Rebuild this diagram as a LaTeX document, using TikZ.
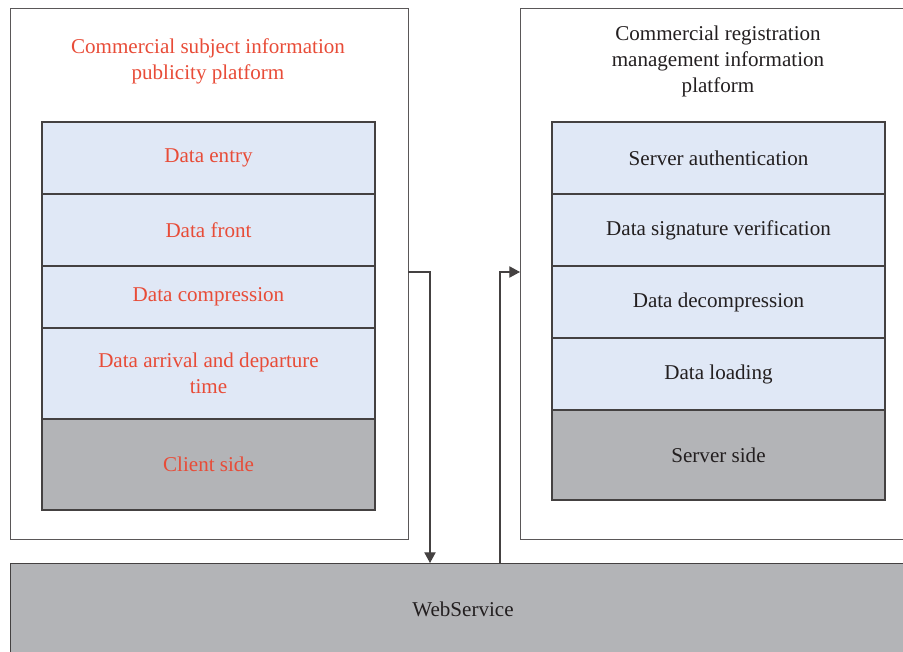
\documentclass[tikz,border=0pt]{standalone}
\usepackage{fontspec}
\setmainfont{Liberation Serif}
\definecolor{layerblue}{RGB}{224,232,246}
\definecolor{layergray}{RGB}{179,180,183}
\definecolor{titlered}{RGB}{232,76,56}
\definecolor{textdark}{RGB}{35,31,32}
\usetikzlibrary{positioning,arrows.meta}

\begin{document}
\begin{tikzpicture}[x=0.75pt,y=-0.75pt,
    every node/.style={font=\fontsize{15.8}{19.5}\selectfont, align=center, outer sep=0pt},
    frame/.style={draw=textdark!75, line width=0.7pt, anchor=north west},
    layer/.style={draw=textdark!85, line width=0.8pt, fill=layerblue, minimum width=249.75pt, minimum height=54pt},
    base/.style={layer, fill=layergray, minimum height=68.25pt},
    flow/.style={draw=textdark!85, line width=0.8pt, -{Triangle[length=8pt,width=8.5pt]}}]
    \useasboundingbox (0,0) rectangle (903,652);

    % outer platforms
    \node[frame, minimum width=298.5pt, minimum height=398.25pt] (client) at (10,8) {};
    \node[frame, minimum width=300pt, minimum height=398.25pt] (server) at (520,8) {};
    \node[frame, fill=layergray, draw=textdark!85, minimum width=679.5pt, minimum height=72pt, text=textdark] (ws) at (10,563) {\raisebox{3pt}{WebService}};

    \node[text=titlered] (ctitle) at (208,61) {Commercial subject information\\publicity platform};
    \node[text=textdark] (stitle) at (718,61) {Commercial registration\\management information\\platform};

    % client stack
    \node[layer, anchor=north west, text=titlered] (entry) at (42,122) {Data entry};
    \node[layer, below=0pt of entry, text=titlered] (front) {Data front};
    \node[layer, below=0pt of front, minimum height=46.5pt, text=titlered] (compress) {Data compression};
    \node[layer, below=0pt of compress, minimum height=68.25pt, text=titlered] (arrival) {Data arrival and departure\\time};
    \node[base, below=0pt of arrival, text=titlered] (cside) {Client side};

    % server stack
    \node[layer, anchor=north west, text=textdark] (auth) at (552,122) {Server authentication};
    \node[layer, below=0pt of auth, text=textdark] (verify) {Data signature verification};
    \node[layer, below=0pt of verify, text=textdark] (decompress) {Data decompression};
    \node[layer, below=0pt of decompress, text=textdark] (loading) {Data loading};
    \node[base, below=0pt of loading, minimum height=67.5pt, text=textdark] (sside) {Server side};

    % transfer through the web service
    \draw[flow] (client.east |- 0,272) -| (ws.north -| 430,0);
    \draw[flow] (ws.north -| 500,0) |- (server.west |- 0,272);
\end{tikzpicture}
\end{document}
